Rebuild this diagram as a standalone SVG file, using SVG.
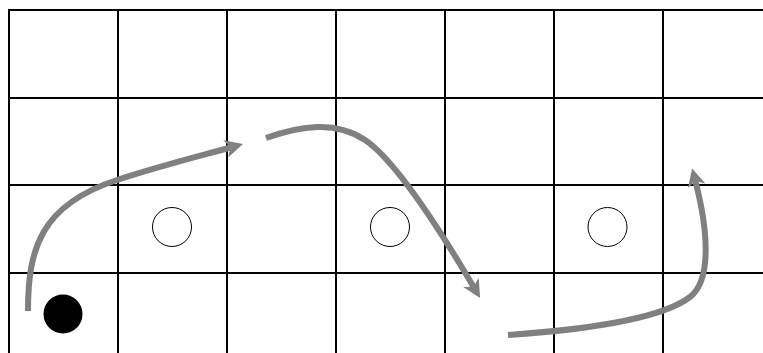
<svg xmlns="http://www.w3.org/2000/svg" width="763" height="353" viewBox="0 0 763 353">
<style>
.grid line{stroke:#000;stroke-width:2}
.open{fill:#fff;stroke:#000;stroke-width:1}
.filled{fill:#000}
.conn{fill:none;stroke:#808080;stroke-width:6;stroke-linecap:butt}
</style>
<defs>
<marker id="arr" markerUnits="userSpaceOnUse" viewBox="0 0 18 18" markerWidth="18" markerHeight="18" refX="5" refY="9" orient="auto" overflow="visible">
<path d="M18,9 L0,0 L5,9 L0,18 Z" fill="#808080"/>
</marker>
</defs>
<rect width="763" height="353" fill="#fff"/>
<g id="grid" class="grid">
<line x1="9" y1="10" x2="763" y2="10"/>
<line x1="9" y1="98" x2="763" y2="98"/>
<line x1="9" y1="185" x2="763" y2="185"/>
<line x1="9" y1="273" x2="763" y2="273"/>
<line x1="9" y1="9" x2="9" y2="353"/>
<line x1="118" y1="9" x2="118" y2="353"/>
<line x1="227" y1="9" x2="227" y2="353"/>
<line x1="336" y1="9" x2="336" y2="353"/>
<line x1="445" y1="9" x2="445" y2="353"/>
<line x1="554" y1="9" x2="554" y2="353"/>
<line x1="663" y1="9" x2="663" y2="353"/>
</g>
<g id="obstacle1"><circle class="open" cx="172" cy="227" r="19.5"/></g>
<g id="obstacle2"><circle class="open" cx="390" cy="227" r="19.5"/></g>
<g id="obstacle3"><circle class="open" cx="607.5" cy="227" r="19.5"/></g>
<g id="agent"><circle class="filled" cx="63" cy="314" r="19.5"/></g>
<g id="connectors">
<path class="conn" marker-end="url(#arr)" d="M28,311 C28,250 40,205 117,180 C160,166 200,156 230.5,147.5"/>
<path class="conn" marker-end="url(#arr)" d="M266,138 C300,126 335,120 365,140 C395,160 440,230 473.5,286.7"/>
<path class="conn" marker-end="url(#arr)" d="M508,335 C580,330 660,320 690,297 C712,280 708,230 695.4,181"/>
</g>
</svg>
